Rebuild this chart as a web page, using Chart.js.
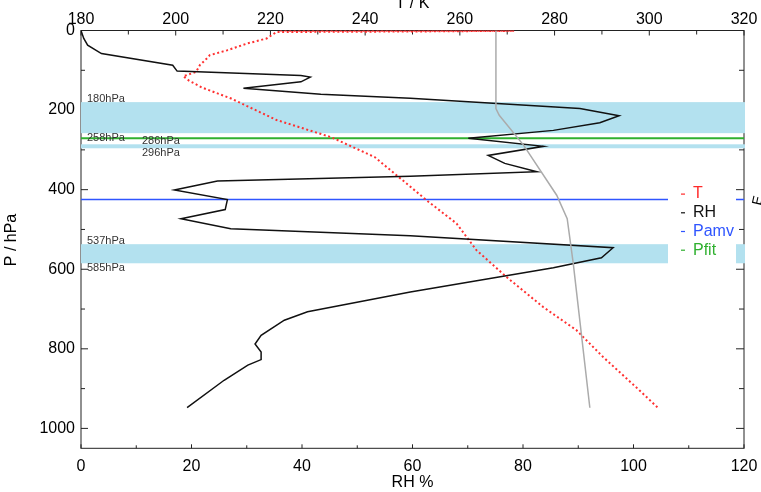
<!DOCTYPE html>
<html>
<head>
<meta charset="utf-8">
<script src="https://cdn.jsdelivr.net/npm/chart.js@4.4.0/dist/chart.umd.min.js"></script>
<style>
  html, body { margin: 0; padding: 0; background: #fff; }
  #contenedor { width: 761px; height: 492px; }
</style>
</head>
<body>
<div id="contenedor"><canvas id="grafica"></canvas></div>
<script>
const rhTicks = [0, 20, 40, 60, 80, 100, 120];
const tTicks = [180, 200, 220, 240, 260, 280, 300, 320];
const pTicks = [0, 200, 400, 600, 800, 1000];

const rhPresion = [0, 20, 37, 58, 87.5, 102, 113, 117, 129, 145, 160, 170, 196, 214, 232, 251, 271, 291, 314, 334, 355, 366, 378, 401, 425, 450, 473, 498, 516, 546, 571, 596, 657, 707, 728, 766, 788, 808, 827, 841, 879, 948];
const rhValores = [0, 0.5, 1.2, 3.7, 16.6, 17.4, 39.8, 41.5, 39.8, 29.4, 43.4, 59.6, 90.3, 97.4, 93.9, 85.5, 70.1, 83.7, 73.7, 76.7, 82.5, 59.6, 24.7, 16.9, 26.5, 26.1, 18.1, 27.1, 59.6, 96.3, 94.2, 85.5, 59.6, 41, 36.8, 32.6, 31.5, 32.6, 32.6, 30.2, 25.9, 19.2];

const tPresion = [0.3, 0.8, 2.5, 3.8, 20, 33, 50, 62, 75, 87, 104, 115, 126, 143, 171, 225, 268, 318, 393, 427, 485, 552, 619, 695, 753, 820, 904, 948];
const tValores = [222, 271.5, 250, 221.3, 219.2, 215, 210.8, 207.2, 206.2, 205.1, 204.3, 201.6, 202.8, 205.5, 211.7, 221.3, 232.8, 242, 249.6, 253, 259.3, 263.5, 269.8, 277.6, 284.6, 290.2, 297.9, 301.8];

const grisPresion = [0, 196, 213, 288, 414, 473, 586, 948];
const grisValores = [75.1, 75.1, 75.7, 80.1, 86.1, 88.0, 89.1, 92.1];

const bandas = [[180, 258], [286, 296], [537, 585]];
const nivelPamv = 425;
const nivelPfit = 271;

const fuente = 'Liberation Sans, Arial, Helvetica, sans-serif';

function puntos(presiones, valores) {
  return presiones.map((p, i) => ({ x: valores[i], y: p }));
}

function sinRelleno(s) {
  s.paddingLeft = 0; s.paddingRight = 0; s.paddingTop = 0; s.paddingBottom = 0;
}

const marco = {
  id: 'marco',
  beforeDatasetsDraw(chart) {
    const { ctx, chartArea: a, scales } = chart;
    ctx.save();
    ctx.strokeStyle = '#222';
    ctx.lineWidth = 1;
    ctx.strokeRect(a.left, a.top, a.right - a.left, a.bottom - a.top);
    ctx.beginPath();
    for (let v = 0; v <= 120; v += 10) {
      const x = scales.x.getPixelForValue(v);
      const l = rhTicks.includes(v) ? 4 : 3;
      ctx.moveTo(x, a.bottom); ctx.lineTo(x, a.bottom - l);
    }
    for (let v = 180; v <= 320; v += 10) {
      const x = scales.x2.getPixelForValue(v);
      const l = tTicks.includes(v) ? 5 : 4;
      ctx.moveTo(x, a.top); ctx.lineTo(x, a.top + l);
    }
    for (let v = 0; v <= 1000; v += 100) {
      const y = scales.y.getPixelForValue(v);
      const mayor = pTicks.includes(v);
      ctx.moveTo(a.left, y); ctx.lineTo(a.left + (mayor ? 7 : 4), y);
      ctx.moveTo(a.right, y); ctx.lineTo(a.right - (mayor ? 8 : 5), y);
    }
    ctx.stroke();

    ctx.fillStyle = '#b3e1ef';
    bandas.forEach(([p1, p2]) => {
      const y1 = scales.y.getPixelForValue(p1);
      const y2 = scales.y.getPixelForValue(p2);
      ctx.fillRect(a.left, y1, a.right - a.left + 1, y2 - y1);
    });
    ctx.restore();
  },
  afterDatasetsDraw(chart) {
    const { ctx, chartArea: a, scales } = chart;
    ctx.save();
    // etiquetas de las bandas
    ctx.fillStyle = '#333';
    ctx.font = '11px ' + fuente;
    ctx.textAlign = 'left';
    ctx.textBaseline = 'middle';
    bandas.forEach(([p1, p2], i) => {
      const x = i === 1 ? a.left + 61 : a.left + 6;
      ctx.fillText(p1 + 'hPa', x, scales.y.getPixelForValue(p1) - 3.5);
      ctx.fillText(p2 + 'hPa', x, scales.y.getPixelForValue(p2) + 5);
    });

    // leyenda
    ctx.fillStyle = '#fff';
    ctx.fillRect(668, 178, 68, 90);
    const items = [['T', '#ff2a2a'], ['RH', '#111'], ['Pamv', '#2f55ff'], ['Pfit', '#2fb02f']];
    ctx.font = '16px ' + fuente;
    items.forEach(([txt, col], i) => {
      const y = 194 + i * 18.7;
      ctx.fillStyle = col;
      ctx.fillRect(681, y - 0.5, 4, 1.2);
      ctx.fillText(txt, 693, y);
    });

    // títulos
    ctx.fillStyle = '#000';
    ctx.font = '16px ' + fuente;
    ctx.textAlign = 'center';
    const cx = (a.left + a.right) / 2;
    ctx.textBaseline = 'alphabetic';
    ctx.fillText('T / K', cx, 8);
    ctx.textBaseline = 'middle';
    ctx.fillText('RH %', cx, 483);
    ctx.save();
    ctx.translate(12, 240);
    ctx.rotate(-Math.PI / 2);
    ctx.fillText('P / hPa', 0, 0);
    ctx.restore();

    ctx.save();
    ctx.translate(761, 206);
    ctx.rotate(-1.35);
    ctx.textAlign = 'left';
    ctx.textBaseline = 'alphabetic';
    ctx.font = '14px ' + fuente;
    ctx.fillText('E', 0, 0);
    ctx.restore();
    ctx.restore();
  }
};

const ticksComunes = {
  color: '#000', font: { family: fuente, size: 16 }, autoSkip: false, maxRotation: 0,
  callback: v => String(v)
};

new Chart(document.getElementById('grafica'), {
  type: 'scatter',
  data: {
    datasets: [
      { data: puntos(grisPresion, grisValores), xAxisID: 'x', borderColor: '#ababab', borderWidth: 1.5 },
      { data: puntos(rhPresion, rhValores), xAxisID: 'x', borderColor: '#111', borderWidth: 1.5 },
      { data: puntos(tPresion, tValores), xAxisID: 'x2', borderColor: '#ff3030', borderWidth: 2, borderDash: [2, 2.6] },
      { data: [{ x: 0, y: nivelPamv }, { x: 120, y: nivelPamv }], xAxisID: 'x', borderColor: '#2f55ff', borderWidth: 1.5 },
      { data: [{ x: 0, y: nivelPfit }, { x: 120, y: nivelPfit }], xAxisID: 'x', borderColor: '#2fb02f', borderWidth: 2 }
    ].map(d => Object.assign({ showLine: true, pointRadius: 0, tension: 0, yAxisID: 'y' }, d))
  },
  options: {
    responsive: true,
    maintainAspectRatio: false,
    animation: false,
    layout: { padding: { left: 0, top: 0, right: 17, bottom: 0 } },
    plugins: { legend: { display: false }, tooltip: { enabled: false } },
    scales: {
      x: {
        type: 'linear', position: 'bottom', min: 0, max: 120,
        grid: { display: false, drawTicks: false }, border: { display: false },
        ticks: Object.assign({ padding: 9 }, ticksComunes),
        afterBuildTicks: s => { s.ticks = rhTicks.map(v => ({ value: v })); },
        afterFit: s => { s.height = 43.7; sinRelleno(s); }
      },
      x2: {
        type: 'linear', position: 'top', min: 180, max: 320,
        grid: { display: false, drawTicks: false }, border: { display: false },
        ticks: Object.assign({ padding: 1 }, ticksComunes),
        afterBuildTicks: s => { s.ticks = tTicks.map(v => ({ value: v })); },
        afterFit: s => { s.height = 30.5; sinRelleno(s); }
      },
      y: {
        type: 'linear', position: 'left', min: 0, max: 1050, reverse: true,
        grid: { display: false, drawTicks: false }, border: { display: false },
        ticks: Object.assign({ padding: 6 }, ticksComunes),
        afterBuildTicks: s => { s.ticks = pTicks.map(v => ({ value: v })); },
        afterFit: s => { s.width = 81; sinRelleno(s); }
      }
    }
  },
  plugins: [marco]
});
</script>
</body>
</html>
